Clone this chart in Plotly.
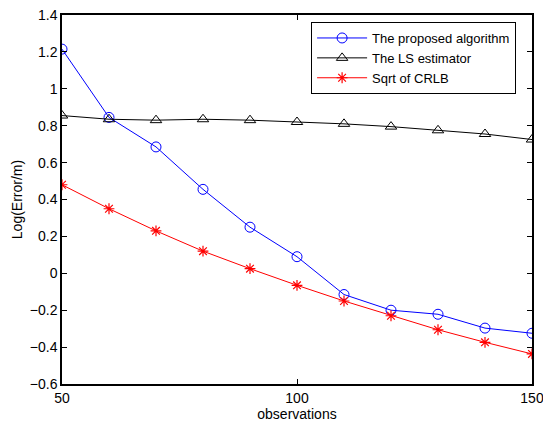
import plotly.graph_objects as go

obs = [50, 60, 70, 80, 90, 100, 110, 120, 130, 140, 150]
proposed = [1.215, 0.845, 0.685, 0.455, 0.25, 0.09, -0.115, -0.2, -0.222, -0.297, -0.325]
ls_est = [0.855, 0.835, 0.83, 0.835, 0.83, 0.82, 0.81, 0.795, 0.775, 0.755, 0.725]
crlb = [0.48, 0.35, 0.23, 0.12, 0.025, -0.065, -0.15, -0.23, -0.306, -0.374, -0.437]

FONT = "Liberation Sans, Arial"

fig = go.Figure()
fig.add_trace(go.Scatter(x=obs, y=proposed, mode="lines+markers", name="The proposed algorithm",
                         line=dict(color="#0000ff", width=1),
                         marker=dict(symbol="circle-open", size=10, color="#0000ff", line=dict(width=1))))
fig.add_trace(go.Scatter(x=obs, y=ls_est, mode="lines+markers", name="The LS estimator",
                         line=dict(color="black", width=1),
                         marker=dict(symbol="triangle-up-open", size=10, color="black", line=dict(width=1))))
fig.add_trace(go.Scatter(x=obs, y=crlb, mode="lines+markers", name="Sqrt of CRLB",
                         line=dict(color="#ff0000", width=1),
                         marker=dict(symbol="asterisk-open", size=9, color="#ff0000", line=dict(width=1.2, color="#ff0000"))))

axis_common = dict(showline=True, linecolor="black", linewidth=1.5, mirror="ticks",
                   ticks="inside", ticklen=5, tickcolor="black", showgrid=False, zeroline=False,
                   automargin=False, ticklabeloverflow="allow",
                   tickfont=dict(family=FONT, size=14, color="black"))
fig.update_xaxes(range=[50, 150], tickvals=[50, 100, 150],
                 title=dict(text="observations", font=dict(family=FONT, size=14, color="black"), standoff=2),
                 **axis_common)
fig.update_yaxes(range=[-0.6, 1.4], tickvals=[-0.6, -0.4, -0.2, 0, 0.2, 0.4, 0.6, 0.8, 1, 1.2, 1.4],
                 ticktext=["\u22120.6", "\u22120.4", "\u22120.2", "0", "0.2", "0.4", "0.6", "0.8", "1", "1.2", "1.4"],
                 title=dict(text="Log(Error/m)", font=dict(family=FONT, size=14, color="black"), standoff=4),
                 **axis_common)
fig.update_layout(width=543, height=424, plot_bgcolor="white", paper_bgcolor="white",
                  margin=dict(l=62, r=11, t=15, b=40, autoexpand=False),
                  legend=dict(x=0.53, y=0.981, xanchor="left", yanchor="top",
                              bgcolor="white", bordercolor="black", borderwidth=1,
                              font=dict(family=FONT, size=13, color="black"),
                              tracegroupgap=0, itemwidth=50))
fig.write_html("out.html")
